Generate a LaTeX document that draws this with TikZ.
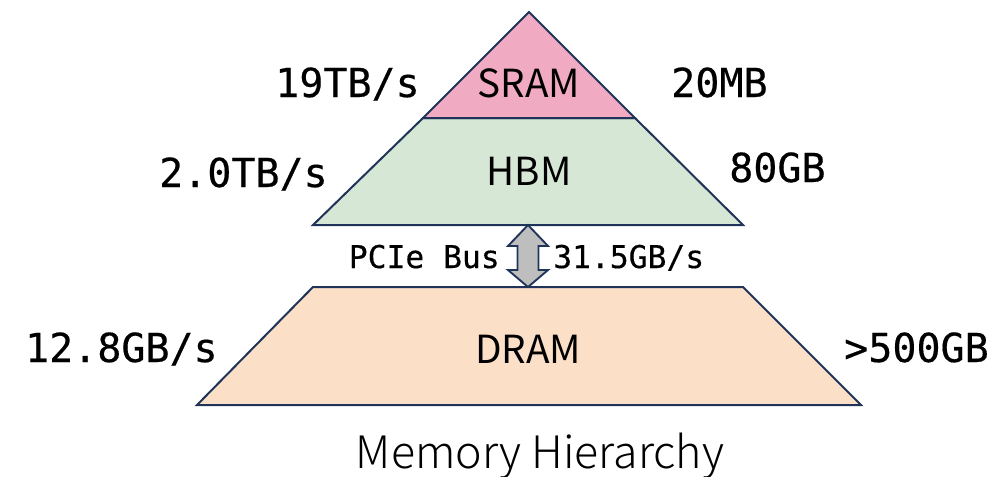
\documentclass[tikz,border=0pt]{standalone}
\usepackage{fontspec}
\setmainfont{Noto Sans CJK SC}
\newfontfamily\monofnt[FakeBold=0.4]{DejaVu Sans Mono}
\newfontfamily\titlefnt{Noto Sans CJK SC Light}
\usetikzlibrary{calc}

\definecolor{edgeblue}{HTML}{1F3458}
\definecolor{sramfill}{HTML}{F0AAC2}
\definecolor{hbmfill}{HTML}{D6E7D5}
\definecolor{dramfill}{HTML}{FBDFC6}
\definecolor{busfill}{HTML}{BEBEBE}

\tikzset{
  layer/.style={draw=edgeblue, line width=1.5pt, line join=miter},
  biglbl/.style={inner sep=0pt, font=\monofnt\fontsize{30}{36}\selectfont},
  buslbl/.style={inner sep=0pt, font=\monofnt\fontsize{23.5}{28}\selectfont},
  namelbl/.style={inner sep=0pt, font=\fontsize{29}{34}\selectfont},
}

\begin{document}
\begin{tikzpicture}[x=0.75pt, y=-0.75pt]
  \useasboundingbox (0,0) rectangle (996,476);

  % pyramid corners
  \coordinate (apex) at (529,12);
  \coordinate (sl) at (423,118);
  \coordinate (sr) at (635,118);
  \coordinate (hl) at (313,225);
  \coordinate (hr) at (743,225);
  \coordinate (dl) at (313,287);
  \coordinate (dr) at (743,287);
  \coordinate (bl) at (197,405);
  \coordinate (br) at (861,405);

  % memory layers
  \draw[layer, fill=hbmfill] (sl) -- (sr) -- (hr) -- (hl) -- cycle;
  \draw[layer, fill=sramfill] (apex) -- (sr) -- (sl) -- cycle;
  \draw[layer, fill=dramfill] (dl) -- (dr) -- (br) -- (bl) -- cycle;

  % bus ends
  \coordinate (busA) at ($(hl)!0.5!(hr)$);
  \coordinate (busB) at ($(dl)!0.5!(dr)$);

  % PCIe double arrow between HBM and DRAM
  \draw[layer, line width=1.4pt, fill=busfill]
    (busA) -- ($(busA)+(20,21)$) -- ($(busA)+(10.5,21)$)
    -- ($(busB)+(10.5,-17)$) -- ($(busB)+(20,-17)$) -- (busB)
    -- ($(busB)+(-20,-17)$) -- ($(busB)+(-10.5,-17)$)
    -- ($(busA)+(-10.5,21)$) -- ($(busA)+(-20,21)$) -- cycle;

  % layer names
  \node[namelbl, anchor=base] (sram) at (529,97) {SRAM};
  \node[namelbl, anchor=base] (hbm) at (529,185) {HBM};
  \node[namelbl, anchor=base] (dram) at (528,363) {DRAM};

  % bandwidth (left) and capacity (right)
  \node[biglbl, anchor=base east] (bw1) at (420,97) {19TB/s};
  \node[biglbl, anchor=base west] (cap1) at (671,97) {20MB};
  \node[biglbl, anchor=base east] (bw2) at (328,187) {2.0TB/s};
  \node[biglbl, anchor=base west] (cap2) at (729,182) {80GB};
  \node[biglbl, anchor=base east] (bw3) at (218,362) {12.8GB/s};
  \node[biglbl, anchor=base west] (cap3) at (844,362) {>500GB};

  % bus labels
  \node[buslbl, anchor=base east] (busname) at (500,268) {PCIe Bus};
  \node[buslbl, anchor=base west] (busbw) at (553,268) {31.5GB/s};

  % caption
  \node[inner sep=0pt, anchor=base, font=\titlefnt\fontsize{33.5}{40}\selectfont] (caption) at (540,468) {Memory Hierarchy};
\end{tikzpicture}
\end{document}
